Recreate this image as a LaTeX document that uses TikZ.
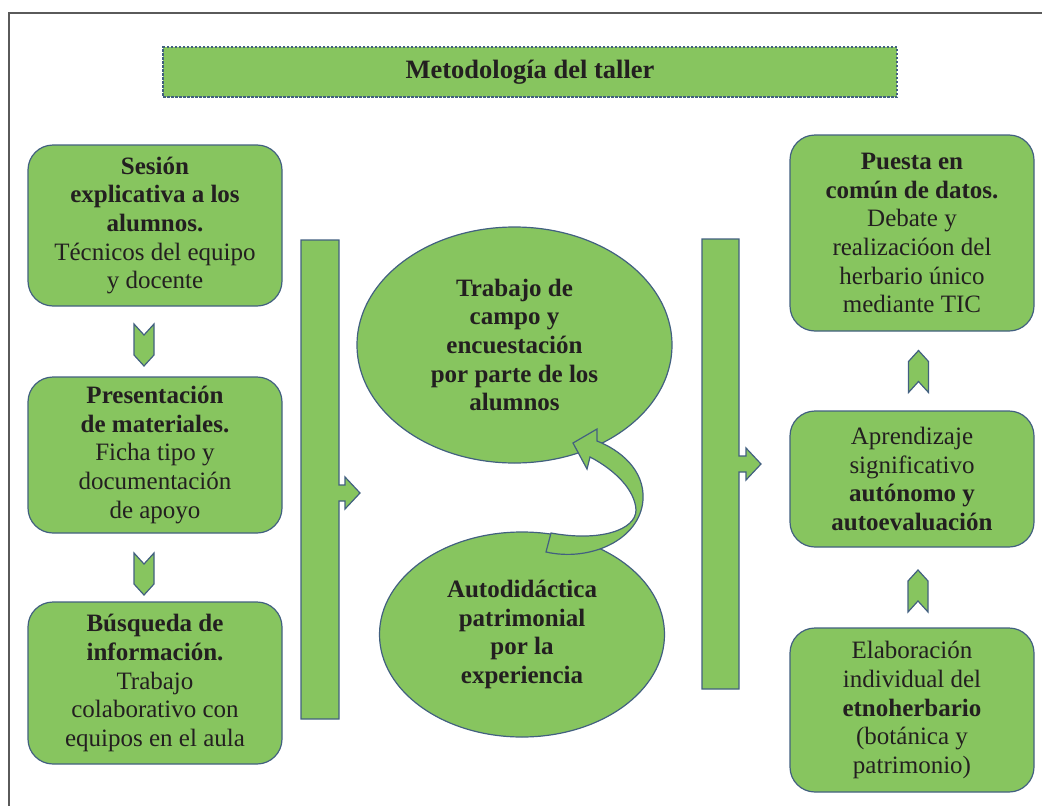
\documentclass[tikz,border=0pt]{standalone}
\usepackage{fontspec}
\setmainfont{Liberation Serif}
\usetikzlibrary{shapes.geometric}
\definecolor{mgreen}{RGB}{135,197,95}
\definecolor{mborder}{RGB}{66,96,128}
\definecolor{mtext}{RGB}{35,31,32}
\definecolor{mframe}{RGB}{90,90,90}
\tikzset{greenfill/.style = {fill=mgreen, draw=mborder, line width=1.2}}
\tikzset{txt/.style = {align=center, text=mtext, font=\fontsize{25}{28.7}\selectfont}}
\tikzset{rbox/.style = {greenfill, txt, rounded corners=25, inner sep=0}}
\tikzset{oval/.style = {greenfill, txt, ellipse, inner sep=0}}
\tikzset{chevdown/.pic = {\draw [greenfill] (-10,-21) -- (0,-10) -- (10,-21) -- (10,10) -- (0,21) -- (-10,10) -- cycle;}}
\tikzset{chevup/.pic = {\draw [greenfill] (-10,21) -- (0,10) -- (10,21) -- (10,-10) -- (0,-21) -- (-10,-10) -- cycle;}}

\begin{document}
\begin{tikzpicture}[x=1pt, y=-1pt]
      \useasboundingbox (0,0) rectangle (1042,806);
      \draw [mframe, line width=1.5] (9,806) -- (9,13) -- (1042,13);

      \node (title) [greenfill, dash pattern=on 2.5 off 1.5, minimum width=734, minimum height=50,
                     text=mtext, font=\bfseries\fontsize{26.5}{30}\selectfont] at (530,72) {Metodología del taller};

      % left column
      \node (sesion) [rbox, minimum width=254, minimum height=161] at (155,225.5)
        {\textbf{Sesión}\\ \textbf{explicativa a los}\\ \textbf{alumnos.}\\ Técnicos del equipo\\ y docente};
      \node (present) [rbox, minimum width=254, minimum height=156] at (155,455)
        {\textbf{Presentación}\\ \textbf{de materiales.}\\ Ficha tipo y\\ documentación\\ de apoyo};
      \node (busq) [rbox, minimum width=254, minimum height=162] at (155,683)
        {\textbf{Búsqueda de}\\ \textbf{información.}\\ Trabajo\\ colaborativo con\\ equipos en el aula};
      \pic at (144,345) {chevdown};
      \pic at (144,574) {chevdown};

      \draw [greenfill] (301,240) -- (339,240) -- (339,485) -- (345,485) -- (345,477) -- (360,493)
        -- (345,509) -- (345,501) -- (339,501) -- (339,719) -- (301,719) -- cycle;

      % centre
      \node (autod) [oval, minimum width=285, minimum height=205] at (522,634.5)
        {\textbf{Autodidáctica}\\ \textbf{patrimonial}\\ \textbf{por la}\\ \textbf{experiencia}};
      \node (campo) [oval, minimum width=315, minimum height=236] at (514.5,345)
        {\textbf{Trabajo de}\\ \textbf{campo y}\\ \textbf{encuestación}\\ \textbf{por parte de los}\\ \textbf{alumnos}};
      \draw [greenfill] (546,552) .. controls (590,562) and (640,540) .. (643,500)
        .. controls (645,470) and (620,450) .. (597,441) -- (597,429) -- (573,443) -- (587,469) -- (590,457)
        .. controls (615,470) and (635,490) .. (636,510)
        .. controls (636,530) and (600,542) .. (551,533) -- cycle;

      \draw [greenfill] (702,239) -- (739,239) -- (739,456) -- (746,456) -- (746,448) -- (761,464)
        -- (746,480) -- (746,472) -- (739,472) -- (739,689) -- (702,689) -- cycle;

      % right column
      \node (puesta) [rbox, minimum width=244, minimum height=196] at (912,233)
        {\textbf{Puesta en}\\ \textbf{común de datos.}\\ Debate y\\ realizacióon del\\ herbario único\\ mediante TIC};
      \node (aprend) [rbox, minimum width=244, minimum height=136] at (912,479)
        {Aprendizaje\\ significativo\\ \textbf{autónomo y}\\ \textbf{autoevaluación}};
      \node (elab) [rbox, minimum width=244, minimum height=164] at (912,710)
        {Elaboración\\ individual del\\ \textbf{etnoherbario}\\ (botánica y\\ patrimonio)};
      \pic at (918.5,371.5) {chevup};
      \pic at (918,591) {chevup};
    \end{tikzpicture}
\end{document}
